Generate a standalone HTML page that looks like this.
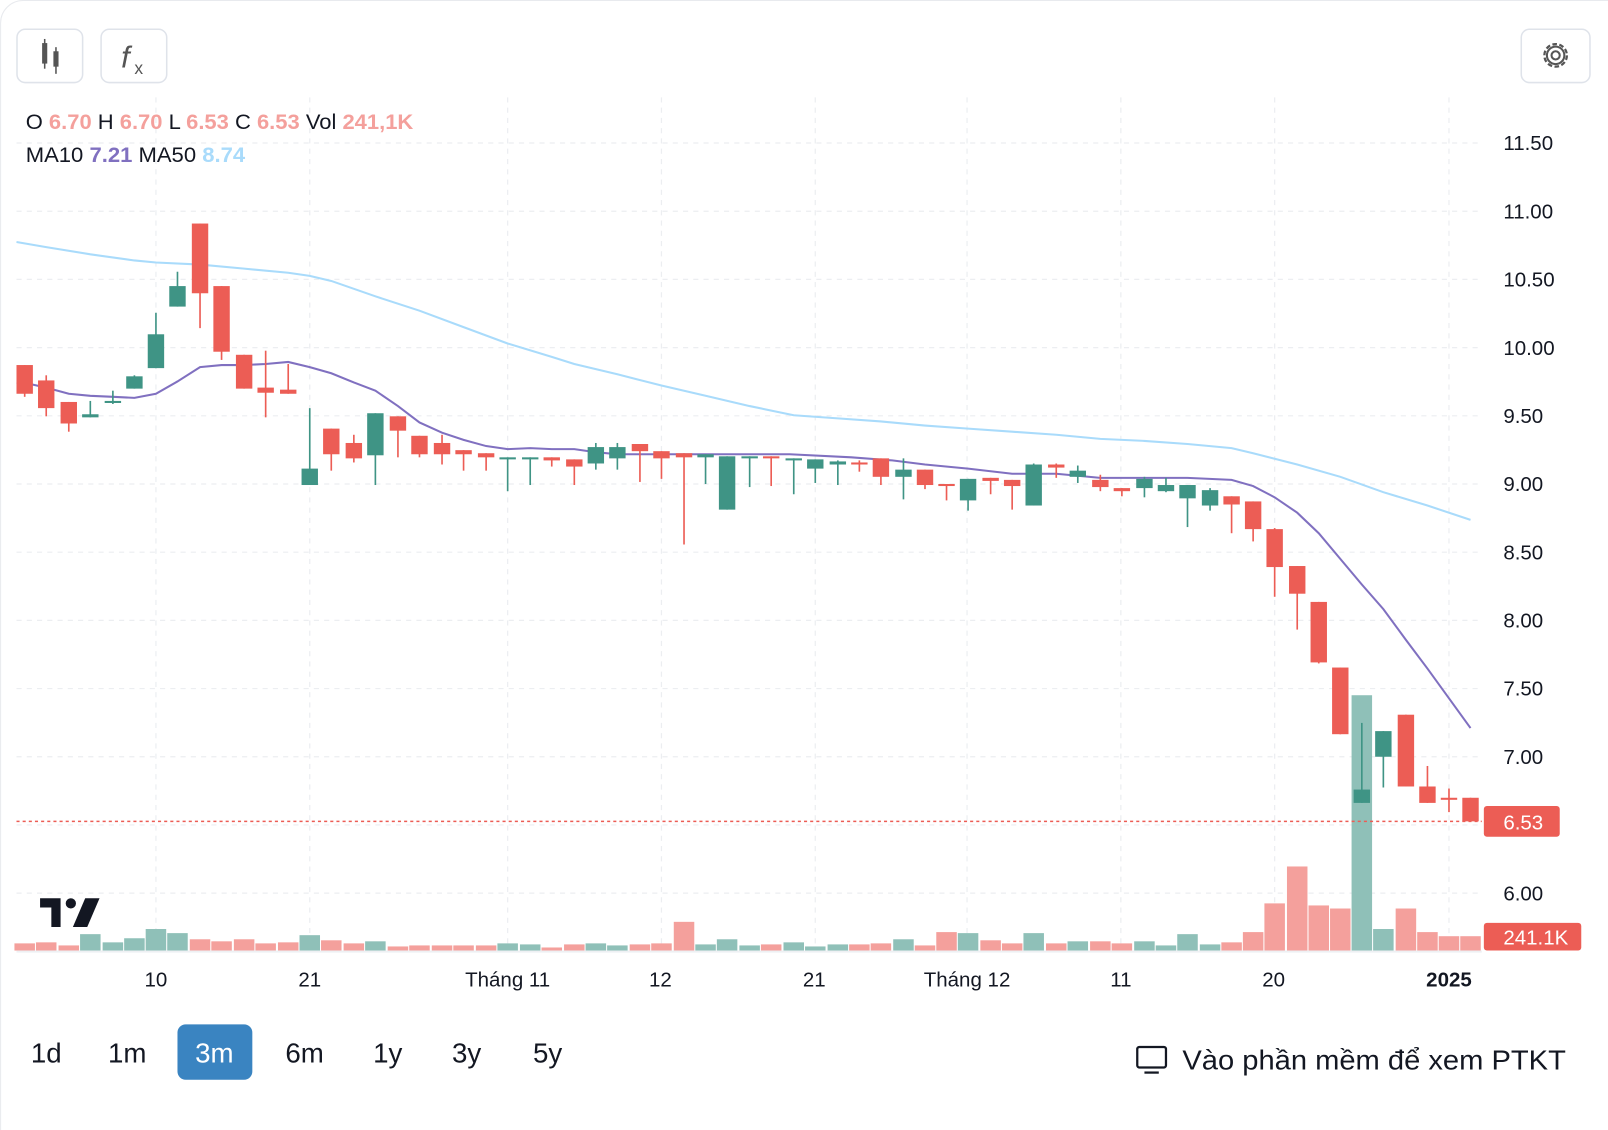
<!DOCTYPE html>
<html><head><meta charset="utf-8"><style>
html,body{margin:0;padding:0;background:#fff;width:1608px;height:1130px;overflow:hidden}
svg{display:block}
text{font-family:"Liberation Sans",Arial,sans-serif}
</style></head><body>
<svg id="s" width="1608" height="1130" viewBox="0 0 1568 1102" xmlns="http://www.w3.org/2000/svg">
<rect x="0.5" y="0.5" width="1600" height="1140" rx="22" fill="#fff" stroke="#e8eaee"/>
<g id="grid" stroke="#eceef1" stroke-width="1.2" stroke-dasharray="5,5"></g>
<g id="vol"></g>
<polyline id="ma50" fill="none" stroke="#a9dbfb" stroke-width="2"/>
<polyline id="ma10" fill="none" stroke="#8070c0" stroke-width="2"/>
<g id="cand"></g>
<line x1="16" y1="801" x2="1445" y2="801" stroke="#ec5d55" stroke-width="1.5" stroke-dasharray="3,3"/>
<!-- buttons -->
<rect x="16.5" y="28.5" width="64" height="52" rx="8" fill="#fff" stroke="#dfe3ea" stroke-width="1.5"/>
<rect x="41" y="42" width="5" height="20" fill="#555"/><line x1="43.5" y1="38" x2="43.5" y2="67" stroke="#555" stroke-width="1.5"/>
<rect x="52" y="50" width="5" height="15" fill="#555"/><line x1="54.5" y1="46" x2="54.5" y2="72" stroke="#555" stroke-width="1.5"/>
<rect x="98.5" y="28.5" width="64" height="52" rx="8" fill="#fff" stroke="#dfe3ea" stroke-width="1.5"/>
<text x="118" y="66" font-size="30" fill="#555" font-family="Liberation Serif,serif" font-style="italic">f</text>
<text x="131" y="72" font-size="17" fill="#555">x</text>
<rect x="1483.5" y="28.5" width="67" height="52" rx="8" fill="#fff" stroke="#dfe3ea" stroke-width="1.5"/>
<circle cx="1517" cy="54" r="11" fill="none" stroke="#555" stroke-width="2.2" stroke-dasharray="4.5,2.4"/>
<circle cx="1517" cy="54" r="8.5" fill="none" stroke="#555" stroke-width="2"/>
<circle cx="1517" cy="54" r="4" fill="none" stroke="#555" stroke-width="2"/>
<!-- legend -->
<text x="25" y="126" font-size="21" fill="#131722" textLength="378" lengthAdjust="spacingAndGlyphs">O <tspan fill="#f4a09c" font-weight="bold">6.70</tspan> H <tspan fill="#f4a09c" font-weight="bold">6.70</tspan> L <tspan fill="#f4a09c" font-weight="bold">6.53</tspan> C <tspan fill="#f4a09c" font-weight="bold">6.53</tspan> Vol <tspan fill="#f4a09c" font-weight="bold">241,1K</tspan></text>
<text x="25" y="158" font-size="21" fill="#131722" textLength="214" lengthAdjust="spacingAndGlyphs">MA10 <tspan fill="#8070c0" font-weight="bold">7.21</tspan> MA50 <tspan fill="#a9dbfb" font-weight="bold">8.74</tspan></text>
<!-- price axis -->
<g font-size="20" fill="#131722" id="pax"></g>
<rect x="1447" y="786" width="74" height="30" rx="3" fill="#ec5d55"/>
<text x="1466" y="809" font-size="20" fill="#fff">6.53</text>
<rect x="1447" y="900" width="95" height="27" rx="3" fill="#ec5d55"/>
<text x="1466" y="921" font-size="20" fill="#fff">241.1K</text>
<line x1="16" y1="928" x2="1445" y2="928" stroke="#eef0f3" stroke-width="2"/>
<!-- time axis -->
<g font-size="20" fill="#131722" text-anchor="middle">
<text x="152" y="962">10</text><text x="302" y="962">21</text><text x="495" y="962">Tháng 11</text>
<text x="644" y="962">12</text><text x="794" y="962">21</text><text x="943" y="962">Tháng 12</text>
<text x="1093" y="962">11</text><text x="1242" y="962">20</text><text x="1413" y="962" font-weight="bold">2025</text>
</g>
<!-- TV logo -->
<path d="M39 876 H59 V904 H50 V885 H39 Z" fill="#131722"/>
<circle cx="69" cy="881" r="5" fill="#131722"/>
<path d="M83 876 H97 L85 904 H71 Z" fill="#131722"/>
<!-- period buttons -->
<rect x="173" y="999" width="73" height="54" rx="8" fill="#3a84c1"/>
<g font-size="27" fill="#131722" text-anchor="middle">
<text x="45" y="1036">1d</text><text x="124" y="1036">1m</text><text x="209" y="1036" fill="#fff">3m</text>
<text x="297" y="1036">6m</text><text x="378" y="1036">1y</text><text x="455" y="1036">3y</text><text x="534" y="1036">5y</text>
</g>
<rect x="1109" y="1021" width="28" height="20" rx="2" fill="none" stroke="#131722" stroke-width="2.2"/>
<line x1="1116" y1="1046" x2="1130" y2="1046" stroke="#131722" stroke-width="2.2"/>
<text x="1153" y="1043" font-size="27" fill="#131722" textLength="374" lengthAdjust="spacingAndGlyphs">Vào phần mềm để xem PTKT</text>
</svg>
<script>
var NS="http://www.w3.org/2000/svg";
function el(p,t,a){var e=document.createElementNS(NS,t);for(var k in a)e.setAttribute(k,a[k]);document.getElementById(p).appendChild(e);return e;}
var prices=["11.50","11.00","10.50","10.00","9.50","9.00","8.50","8.00","7.50","7.00","6.50","6.00"];
for(var i=0;i<prices.length;i++){var y=139.5+i*66.5;el("grid","line",{x1:16,y1:y,x2:1445,y2:y});
 if(prices[i]!="6.50"){var t=el("pax","text",{x:1466,y:y+7});t.textContent=prices[i];}}
[152,302,495,645,795,943,1093,1243,1413].forEach(function(x){el("grid","line",{x1:x,y1:95,x2:x,y2:928});});
var C=[
[24,'r',356,384,356,387],[45,'r',371,398,366,406],[67,'r',392,413,392,421],[88,'g',404,407,391,407],[110,'g',391,393,381,394],
[131,'g',367,379,366,379],[152,'g',326,359,305,359],[173,'g',279,299,265,299],[195,'r',218,286,218,320],[216,'r',279,343,279,351],
[238,'r',346,379,346,379],[259,'r',378,383,342,407],[281,'r',380,384,355,384],[302,'g',457,473,398,473],[323,'r',418,443,418,459],
[345,'r',432,447,424,451],[366,'g',403,444,403,473],[388,'r',406,420,406,446],[409,'r',425,443,425,446],[431,'r',432,443,424,453],
[452,'r',439,443,439,459],[474,'r',442,446,442,459],[495,'g',446,448,446,479],[517,'g',446,448,446,473],[538,'r',446,449,446,455],
[560,'r',448,455,448,473],[581,'g',436,452,432,458],[602,'g',436,447,432,458],[624,'r',433,440,433,470],[645,'r',440,447,440,467],
[667,'r',442,446,442,531],[688,'g',443,446,443,472],[709,'g',445,497,445,497],[731,'g',445,447,445,475],[752,'r',445,447,445,474],
[774,'g',447,449,447,482],[795,'g',448,457,448,471],[817,'g',450,453,449,473],[838,'r',451,453,449,460],[859,'r',447,465,447,473],
[881,'g',458,465,447,487],[902,'r',458,473,458,477],[923,'r',472,474,472,488],[944,'g',467,488,467,498],[966,'r',466,469,466,482],
[987,'r',468,474,468,497],[1008,'g',453,493,452,493],[1030,'r',453,456,452,466],[1051,'g',459,465,454,471],[1073,'r',468,475,463,479],
[1094,'r',476,479,476,484],[1116,'g',467,476,465,485],[1137,'g',473,479,466,480],[1158,'g',473,486,473,514],[1180,'g',478,493,476,498],
[1201,'r',484,492,484,520],[1222,'r',489,516,489,528],[1243,'r',516,553,515,582],[1265,'r',552,579,552,614],[1286,'r',587,646,587,647],
[1307,'r',651,716,651,716],[1328,'g',770,783,705,783],[1349,'g',713,738,713,768],[1371,'r',697,767,697,767],[1392,'r',767,783,747,783],
[1413,'r',778,780,769,792],[1434,'r',778,801,778,801]];
var V=[920,919,922,911,919,915,906,910,916,918,916,920,919,912,917,920,918,923,922,922,922,922,920,921,924,921,920,922,921,920,899,921,916,922,921,919,923,921,921,920,916,922,909,910,917,920,910,920,918,918,920,918,922,911,921,919,909,881,845,883,886,678,906,886,909,913,913];
for(var i=0;i<C.length;i++){var c=C[i],col=c[1]=='r'?'#ec5d55':'#3f9485',vc=c[1]=='r'?'#f4a09c':'#8fc0b8';
 el("vol","rect",{x:c[0]-10,y:V[i],width:20,height:927-V[i],fill:vc});
 el("cand","line",{x1:c[0],y1:c[4],x2:c[0],y2:c[5],stroke:col,"stroke-width":1.6});
 var h=Math.max(2,c[3]-c[2]);el("cand","rect",{x:c[0]-8,y:c[2],width:16,height:h,fill:col});}
document.getElementById("ma10").setAttribute("points","16,373 27,374 45,378 67,384 88,386 110,387 131,388 152,384 173,372 195,358 216,356 238,356 259,355 281,353 302,358 323,364 345,373 366,381 388,396 409,412 431,422 452,429 474,435 495,438 517,437 538,438 560,438 581,441 602,443 700,443 770,443 830,446 870,449 902,453 944,457 987,462 1030,462 1073,466 1116,466 1158,466 1201,468 1222,474 1243,485 1265,500 1286,520 1307,545 1328,570 1349,594 1371,624 1392,652 1413,681 1434,710");
document.getElementById("ma50").setAttribute("points","16,236 45,241 88,248 131,254 152,256 195,258 238,262 281,266 302,269 323,274 366,289 409,303 452,319 495,335 538,348 560,355 602,365 645,376 688,386 731,396 774,405 817,408 859,411 902,415 944,418 987,421 1030,424 1073,428 1116,430 1158,433 1201,437 1222,442 1265,453 1307,465 1349,480 1392,493 1434,507");
</script>
</body></html>
